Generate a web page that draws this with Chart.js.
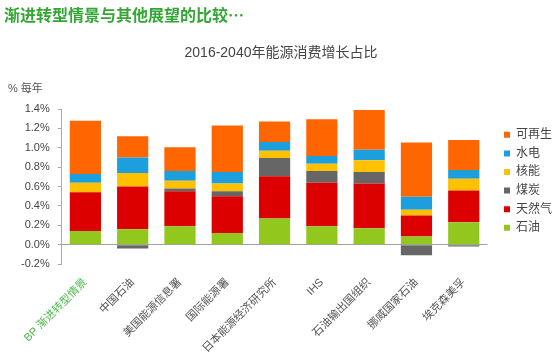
<!DOCTYPE html>
<html>
<head>
<meta charset="utf-8">
<script src="https://cdn.jsdelivr.net/npm/chart.js@4"></script>
<style>
html,body{margin:0;padding:0;background:#fff;}
#wrap{width:554px;height:356px;position:relative;}
</style>
</head>
<body>
<div id="wrap"><canvas id="c" width="554" height="356"></canvas></div>
<script>
const categories = ["BP 渐进转型情景","中国石油","美国能源信息署","国际能源署","日本能源经济研究所","IHS","石油输出国组织","挪威国家石油","埃克森美孚"];
const oil        = [0.14, 0.16, 0.19, 0.12, 0.27, 0.19, 0.17, 0.085, 0.23];
const gas        = [0.40, 0.44, 0.36, 0.38, 0.435, 0.45, 0.46, 0.215, 0.33];
const coal       = [0.00, -0.04, 0.03, 0.05, 0.19, 0.12, 0.12, -0.11, -0.02];
const nuclear    = [0.10, 0.14, 0.08, 0.08, 0.075, 0.075, 0.12, 0.06, 0.12];
const hydro      = [0.09, 0.16, 0.10, 0.12, 0.09, 0.08, 0.11, 0.135, 0.09];
const renewables = [0.55, 0.22, 0.245, 0.48, 0.21, 0.38, 0.41, 0.56, 0.31];
const yTicks = [-0.2, 0.0, 0.2, 0.4, 0.6, 0.8, 1.0, 1.2, 1.4];

const FONT = "'Liberation Sans', 'Noto Sans CJK SC', sans-serif";

const textPlugin = {
  id: 'texts',
  afterLayout(chart) {
    const lg = chart.legend;
    if (lg) { lg.left += 10; lg.right += 10; }
  },
  afterDraw(chart) {
    const ctx = chart.ctx;
    ctx.save();
    ctx.textBaseline = 'middle';
    ctx.textAlign = 'left';
    ctx.fillStyle = '#33a633';
    ctx.font = "bold 16px 'Noto Sans CJK SC', sans-serif";
    ctx.fillText('渐进转型情景与其他展望的比较…', 4, 15);
    ctx.textAlign = 'center';
    ctx.fillStyle = '#444';
    ctx.font = "14px " + FONT;
    ctx.fillText('2016-2040年能源消费增长占比', 281, 53);
    ctx.textAlign = 'left';
    ctx.font = "11px " + FONT;
    ctx.fillStyle = '#555';
    ctx.fillText('% 每年', 8, 89);
    ctx.restore();
  }
};

const mk = (label, data, color) => ({label, data, backgroundColor: color, borderWidth: 0, stack: 's'});

new Chart(document.getElementById('c'), {
  type: 'bar',
  data: {
    labels: categories,
    datasets: [
      mk('石油', oil, '#92c81e'),
      mk('天然气', gas, '#dd0000'),
      mk('煤炭', coal, '#666666'),
      mk('核能', nuclear, '#ffc000'),
      mk('水电', hydro, '#1c9fdc'),
      mk('可再生', renewables, '#ff6600')
    ]
  },
  options: {
    responsive: false,
    animation: false,
    layout: {padding: {top: 109, left: 13, right: 2, bottom: 0}},
    datasets: {bar: {categoryPercentage: 1, barPercentage: 0.66}},
    plugins: {
      title: {display: false},
      tooltip: {enabled: false},
      legend: {
        position: 'right',
        align: 'start',
        reverse: true,
        title: {display: true, text: ' ', font: {size: 11}, padding: {top: 0, bottom: 0}},
        labels: {
          boxWidth: 6, boxHeight: 6, padding: 6.6,
          color: '#444',
          font: {family: FONT, size: 12}
        }
      }
    },
    scales: {
      x: {
        stacked: true,
        afterFit: (s) => { s.height = 92; },
        grid: {display: false},
        border: {display: false},
        ticks: {
          maxRotation: 45, minRotation: 45, autoSkip: false,
          padding: 4,
          font: {family: FONT, size: 11},
          color: (c) => c.index === 0 ? '#4cbb4c' : '#555'
        }
      },
      y: {
        stacked: true,
        min: -0.2, max: 1.4,
        afterBuildTicks: (s) => { s.ticks = yTicks.map(v => ({value: v})); },
        grid: {
          drawOnChartArea: true,
          color: (c) => (c.tick && Math.abs(c.tick.value) < 1e-9) ? '#a0a0a0' : 'rgba(0,0,0,0)',
          tickColor: '#aaaaaa',
          tickLength: 4
        },
        border: {display: true, color: '#aaaaaa'},
        ticks: {
          padding: 8,
          font: {family: FONT, size: 11},
          color: '#444',
          callback: (v) => v.toFixed(1) + '%'
        }
      }
    }
  },
  plugins: [textPlugin]
});
</script>
</body>
</html>
